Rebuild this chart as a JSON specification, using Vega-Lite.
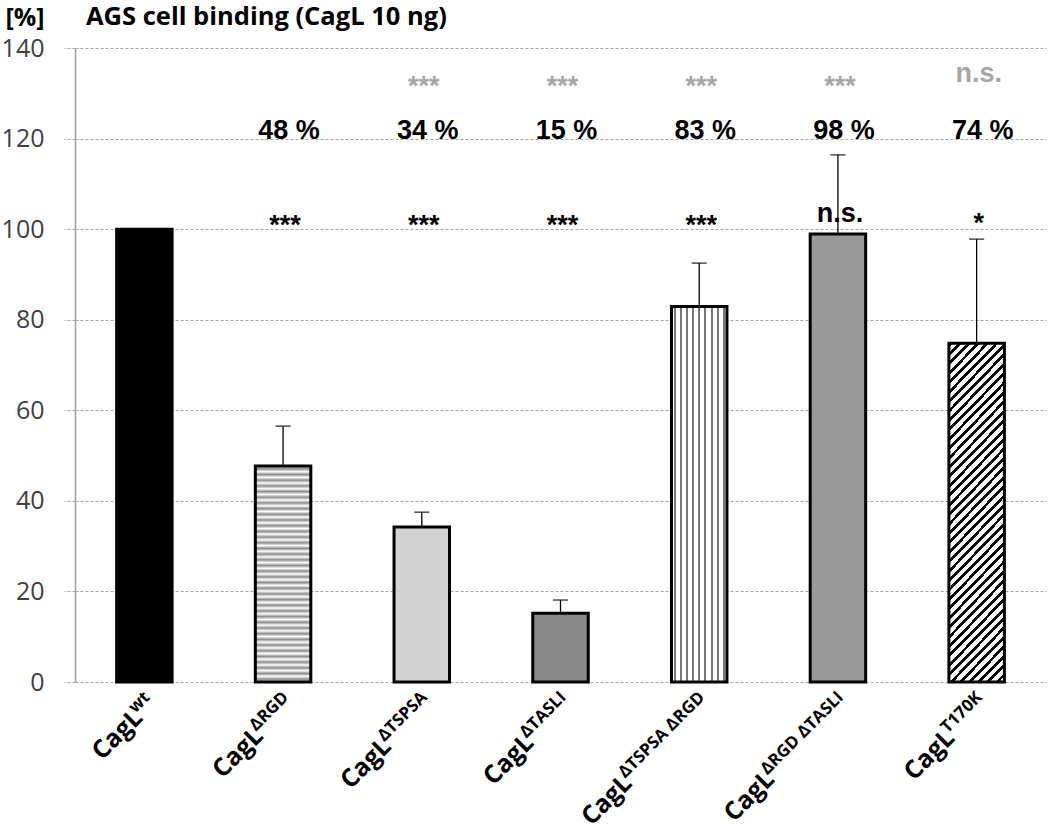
{
  "$schema": "https://vega.github.io/schema/vega-lite/v6.json",
  "width": 971,
  "height": 634,
  "autosize": {"type": "none"},
  "padding": {"left": 75, "top": 48, "right": 4, "bottom": 145},
  "background": "white",
  "title": {"text": "AGS cell binding (CagL 10 ng)", "anchor": "start", "frame": "group", "dx": 11, "dy": 45, "offset": 0, "baseline": "alphabetic", "font": "Open Sans", "fontSize": 25.5, "fontWeight": "bold", "color": "#000"},
  "config": {"view": {"stroke": null}},
  "data": {"values": [
    {"variant": "wt", "mean": 100, "upper": null, "pct": "", "sig": "", "sig2": ""},
    {"variant": "ΔRGD", "mean": 47.7, "upper": 56.5, "pct": "48 %", "sig": "***", "sig2": ""},
    {"variant": "ΔTSPSA", "mean": 34.2, "upper": 37.5, "pct": "34 %", "sig": "***", "sig2": "***"},
    {"variant": "ΔTASLI", "mean": 15.2, "upper": 18.1, "pct": "15 %", "sig": "***", "sig2": "***"},
    {"variant": "ΔTSPSA ΔRGD", "mean": 82.9, "upper": 92.5, "pct": "83 %", "sig": "***", "sig2": "***"},
    {"variant": "ΔRGD ΔTASLI", "mean": 98.9, "upper": 116.4, "pct": "98 %", "sig": "n.s.", "sig2": "***"},
    {"variant": "T170K", "mean": 74.8, "upper": 97.8, "pct": "74 %", "sig": "*", "sig2": "n.s."}
  ]},
  "encoding": {
    "x": {"field": "variant", "type": "nominal", "sort": null, "scale": {"paddingInner": 0.6, "paddingOuter": 0.3}, "axis": null}
  },
  "layer": [
    {
      "mark": {"type": "bar", "stroke": "#000", "strokeWidth": 3},
      "encoding": {
        "y": {"field": "mean", "type": "quantitative", "scale": {"domain": [0, 140], "nice": false},
          "axis": {"title": "[%]", "titleAngle": 0, "titleX": -70, "titleY": -23, "titleAlign": "left", "titleBaseline": "alphabetic", "titleFont": "Open Sans", "titleFontSize": 25, "titleFontWeight": "bold", "titleColor": "#000",
            "values": [0, 20, 40, 60, 80, 100, 120, 140], "labelFont": "Open Sans", "labelFontSize": 25, "labelColor": "#404040", "labelPadding": 20,
            "tickSize": 11, "tickColor": "#a6a6a6", "tickDash": [3, 2], "tickWidth": 1,
            "domainColor": "#a0a0a0", "domainWidth": 1.5, "gridColor": "#a6a6a6", "gridDash": [3, 2], "gridWidth": 1}},
        "fill": {
          "condition": [
            {"test": "datum.variant === 'wt'", "value": "#000"},
            {"test": "datum.variant === 'ΔRGD'", "value": {"gradient": "linear", "x1": 0, "y1": 0, "x2": 0, "y2": 1, "stops": [
              {"offset": 0, "color": "#fff"}, {"offset": 0.0132, "color": "#8c8c8c"}, {"offset": 0.0263, "color": "#fff"}, {"offset": 0.0395, "color": "#8c8c8c"},
              {"offset": 0.0526, "color": "#fff"}, {"offset": 0.0658, "color": "#8c8c8c"}, {"offset": 0.0789, "color": "#fff"}, {"offset": 0.0921, "color": "#8c8c8c"},
              {"offset": 0.1053, "color": "#fff"}, {"offset": 0.1184, "color": "#8c8c8c"}, {"offset": 0.1316, "color": "#fff"}, {"offset": 0.1447, "color": "#8c8c8c"},
              {"offset": 0.1579, "color": "#fff"}, {"offset": 0.1711, "color": "#8c8c8c"}, {"offset": 0.1842, "color": "#fff"}, {"offset": 0.1974, "color": "#8c8c8c"},
              {"offset": 0.2105, "color": "#fff"}, {"offset": 0.2237, "color": "#8c8c8c"}, {"offset": 0.2368, "color": "#fff"}, {"offset": 0.25, "color": "#8c8c8c"},
              {"offset": 0.2632, "color": "#fff"}, {"offset": 0.2763, "color": "#8c8c8c"}, {"offset": 0.2895, "color": "#fff"}, {"offset": 0.3026, "color": "#8c8c8c"},
              {"offset": 0.3158, "color": "#fff"}, {"offset": 0.3289, "color": "#8c8c8c"}, {"offset": 0.3421, "color": "#fff"}, {"offset": 0.3553, "color": "#8c8c8c"},
              {"offset": 0.3684, "color": "#fff"}, {"offset": 0.3816, "color": "#8c8c8c"}, {"offset": 0.3947, "color": "#fff"}, {"offset": 0.4079, "color": "#8c8c8c"},
              {"offset": 0.4211, "color": "#fff"}, {"offset": 0.4342, "color": "#8c8c8c"}, {"offset": 0.4474, "color": "#fff"}, {"offset": 0.4605, "color": "#8c8c8c"},
              {"offset": 0.4737, "color": "#fff"}, {"offset": 0.4868, "color": "#8c8c8c"}, {"offset": 0.5, "color": "#fff"}, {"offset": 0.5132, "color": "#8c8c8c"},
              {"offset": 0.5263, "color": "#fff"}, {"offset": 0.5395, "color": "#8c8c8c"}, {"offset": 0.5526, "color": "#fff"}, {"offset": 0.5658, "color": "#8c8c8c"},
              {"offset": 0.5789, "color": "#fff"}, {"offset": 0.5921, "color": "#8c8c8c"}, {"offset": 0.6053, "color": "#fff"}, {"offset": 0.6184, "color": "#8c8c8c"},
              {"offset": 0.6316, "color": "#fff"}, {"offset": 0.6447, "color": "#8c8c8c"}, {"offset": 0.6579, "color": "#fff"}, {"offset": 0.6711, "color": "#8c8c8c"},
              {"offset": 0.6842, "color": "#fff"}, {"offset": 0.6974, "color": "#8c8c8c"}, {"offset": 0.7105, "color": "#fff"}, {"offset": 0.7237, "color": "#8c8c8c"},
              {"offset": 0.7368, "color": "#fff"}, {"offset": 0.75, "color": "#8c8c8c"}, {"offset": 0.7632, "color": "#fff"}, {"offset": 0.7763, "color": "#8c8c8c"},
              {"offset": 0.7895, "color": "#fff"}, {"offset": 0.8026, "color": "#8c8c8c"}, {"offset": 0.8158, "color": "#fff"}, {"offset": 0.8289, "color": "#8c8c8c"},
              {"offset": 0.8421, "color": "#fff"}, {"offset": 0.8553, "color": "#8c8c8c"}, {"offset": 0.8684, "color": "#fff"}, {"offset": 0.8816, "color": "#8c8c8c"},
              {"offset": 0.8947, "color": "#fff"}, {"offset": 0.9079, "color": "#8c8c8c"}, {"offset": 0.9211, "color": "#fff"}, {"offset": 0.9342, "color": "#8c8c8c"},
              {"offset": 0.9474, "color": "#fff"}, {"offset": 0.9605, "color": "#8c8c8c"}, {"offset": 0.9737, "color": "#fff"}, {"offset": 0.9868, "color": "#8c8c8c"},
              {"offset": 1, "color": "#fff"}]}},
            {"test": "datum.variant === 'ΔTSPSA'", "value": "#d3d3d3"},
            {"test": "datum.variant === 'ΔTASLI'", "value": "#8a8a8a"},
            {"test": "datum.variant === 'ΔTSPSA ΔRGD'", "value": {"gradient": "linear", "x1": 0, "y1": 0, "x2": 1, "y2": 0, "stops": [
              {"offset": 0, "color": "#fff"},
              {"offset": 0.0376, "color": "#fff"}, {"offset": 0.0376, "color": "#777"}, {"offset": 0.0736, "color": "#777"}, {"offset": 0.0736, "color": "#fff"},
              {"offset": 0.1487, "color": "#fff"}, {"offset": 0.1487, "color": "#777"}, {"offset": 0.1847, "color": "#777"}, {"offset": 0.1847, "color": "#fff"},
              {"offset": 0.2598, "color": "#fff"}, {"offset": 0.2598, "color": "#777"}, {"offset": 0.2958, "color": "#777"}, {"offset": 0.2958, "color": "#fff"},
              {"offset": 0.3709, "color": "#fff"}, {"offset": 0.3709, "color": "#777"}, {"offset": 0.4069, "color": "#777"}, {"offset": 0.4069, "color": "#fff"},
              {"offset": 0.482, "color": "#fff"}, {"offset": 0.482, "color": "#777"}, {"offset": 0.518, "color": "#777"}, {"offset": 0.518, "color": "#fff"},
              {"offset": 0.5931, "color": "#fff"}, {"offset": 0.5931, "color": "#777"}, {"offset": 0.6291, "color": "#777"}, {"offset": 0.6291, "color": "#fff"},
              {"offset": 0.7042, "color": "#fff"}, {"offset": 0.7042, "color": "#777"}, {"offset": 0.7402, "color": "#777"}, {"offset": 0.7402, "color": "#fff"},
              {"offset": 0.8153, "color": "#fff"}, {"offset": 0.8153, "color": "#777"}, {"offset": 0.8513, "color": "#777"}, {"offset": 0.8513, "color": "#fff"},
              {"offset": 0.9264, "color": "#fff"}, {"offset": 0.9264, "color": "#777"}, {"offset": 0.9624, "color": "#777"}, {"offset": 0.9624, "color": "#fff"},
              {"offset": 1, "color": "#fff"}]}},
            {"test": "datum.variant === 'ΔRGD ΔTASLI'", "value": "#999"},
            {"test": "datum.variant === 'T170K'", "value": {"gradient": "linear", "x1": 0, "y1": 0, "x2": 0.1908, "y2": 1.1359, "stops": [
              {"offset": 0, "color": "#000"}, {"offset": 0.01, "color": "#000"}, {"offset": 0.01, "color": "#fff"},
              {"offset": 0.0238, "color": "#fff"}, {"offset": 0.0238, "color": "#000"}, {"offset": 0.0338, "color": "#000"}, {"offset": 0.0338, "color": "#fff"},
              {"offset": 0.0476, "color": "#fff"}, {"offset": 0.0476, "color": "#000"}, {"offset": 0.0576, "color": "#000"}, {"offset": 0.0576, "color": "#fff"},
              {"offset": 0.0714, "color": "#fff"}, {"offset": 0.0714, "color": "#000"}, {"offset": 0.0814, "color": "#000"}, {"offset": 0.0814, "color": "#fff"},
              {"offset": 0.0952, "color": "#fff"}, {"offset": 0.0952, "color": "#000"}, {"offset": 0.1052, "color": "#000"}, {"offset": 0.1052, "color": "#fff"},
              {"offset": 0.119, "color": "#fff"}, {"offset": 0.119, "color": "#000"}, {"offset": 0.129, "color": "#000"}, {"offset": 0.129, "color": "#fff"},
              {"offset": 0.1429, "color": "#fff"}, {"offset": 0.1429, "color": "#000"}, {"offset": 0.1529, "color": "#000"}, {"offset": 0.1529, "color": "#fff"},
              {"offset": 0.1667, "color": "#fff"}, {"offset": 0.1667, "color": "#000"}, {"offset": 0.1767, "color": "#000"}, {"offset": 0.1767, "color": "#fff"},
              {"offset": 0.1905, "color": "#fff"}, {"offset": 0.1905, "color": "#000"}, {"offset": 0.2005, "color": "#000"}, {"offset": 0.2005, "color": "#fff"},
              {"offset": 0.2143, "color": "#fff"}, {"offset": 0.2143, "color": "#000"}, {"offset": 0.2243, "color": "#000"}, {"offset": 0.2243, "color": "#fff"},
              {"offset": 0.2381, "color": "#fff"}, {"offset": 0.2381, "color": "#000"}, {"offset": 0.2481, "color": "#000"}, {"offset": 0.2481, "color": "#fff"},
              {"offset": 0.2619, "color": "#fff"}, {"offset": 0.2619, "color": "#000"}, {"offset": 0.2719, "color": "#000"}, {"offset": 0.2719, "color": "#fff"},
              {"offset": 0.2857, "color": "#fff"}, {"offset": 0.2857, "color": "#000"}, {"offset": 0.2957, "color": "#000"}, {"offset": 0.2957, "color": "#fff"},
              {"offset": 0.3095, "color": "#fff"}, {"offset": 0.3095, "color": "#000"}, {"offset": 0.3195, "color": "#000"}, {"offset": 0.3195, "color": "#fff"},
              {"offset": 0.3333, "color": "#fff"}, {"offset": 0.3333, "color": "#000"}, {"offset": 0.3433, "color": "#000"}, {"offset": 0.3433, "color": "#fff"},
              {"offset": 0.3571, "color": "#fff"}, {"offset": 0.3571, "color": "#000"}, {"offset": 0.3671, "color": "#000"}, {"offset": 0.3671, "color": "#fff"},
              {"offset": 0.381, "color": "#fff"}, {"offset": 0.381, "color": "#000"}, {"offset": 0.391, "color": "#000"}, {"offset": 0.391, "color": "#fff"},
              {"offset": 0.4048, "color": "#fff"}, {"offset": 0.4048, "color": "#000"}, {"offset": 0.4148, "color": "#000"}, {"offset": 0.4148, "color": "#fff"},
              {"offset": 0.4286, "color": "#fff"}, {"offset": 0.4286, "color": "#000"}, {"offset": 0.4386, "color": "#000"}, {"offset": 0.4386, "color": "#fff"},
              {"offset": 0.4524, "color": "#fff"}, {"offset": 0.4524, "color": "#000"}, {"offset": 0.4624, "color": "#000"}, {"offset": 0.4624, "color": "#fff"},
              {"offset": 0.4762, "color": "#fff"}, {"offset": 0.4762, "color": "#000"}, {"offset": 0.4862, "color": "#000"}, {"offset": 0.4862, "color": "#fff"},
              {"offset": 0.5, "color": "#fff"}, {"offset": 0.5, "color": "#000"}, {"offset": 0.51, "color": "#000"}, {"offset": 0.51, "color": "#fff"},
              {"offset": 0.5238, "color": "#fff"}, {"offset": 0.5238, "color": "#000"}, {"offset": 0.5338, "color": "#000"}, {"offset": 0.5338, "color": "#fff"},
              {"offset": 0.5476, "color": "#fff"}, {"offset": 0.5476, "color": "#000"}, {"offset": 0.5576, "color": "#000"}, {"offset": 0.5576, "color": "#fff"},
              {"offset": 0.5714, "color": "#fff"}, {"offset": 0.5714, "color": "#000"}, {"offset": 0.5814, "color": "#000"}, {"offset": 0.5814, "color": "#fff"},
              {"offset": 0.5952, "color": "#fff"}, {"offset": 0.5952, "color": "#000"}, {"offset": 0.6052, "color": "#000"}, {"offset": 0.6052, "color": "#fff"},
              {"offset": 0.619, "color": "#fff"}, {"offset": 0.619, "color": "#000"}, {"offset": 0.629, "color": "#000"}, {"offset": 0.629, "color": "#fff"},
              {"offset": 0.6429, "color": "#fff"}, {"offset": 0.6429, "color": "#000"}, {"offset": 0.6529, "color": "#000"}, {"offset": 0.6529, "color": "#fff"},
              {"offset": 0.6667, "color": "#fff"}, {"offset": 0.6667, "color": "#000"}, {"offset": 0.6767, "color": "#000"}, {"offset": 0.6767, "color": "#fff"},
              {"offset": 0.6905, "color": "#fff"}, {"offset": 0.6905, "color": "#000"}, {"offset": 0.7005, "color": "#000"}, {"offset": 0.7005, "color": "#fff"},
              {"offset": 0.7143, "color": "#fff"}, {"offset": 0.7143, "color": "#000"}, {"offset": 0.7243, "color": "#000"}, {"offset": 0.7243, "color": "#fff"},
              {"offset": 0.7381, "color": "#fff"}, {"offset": 0.7381, "color": "#000"}, {"offset": 0.7481, "color": "#000"}, {"offset": 0.7481, "color": "#fff"},
              {"offset": 0.7619, "color": "#fff"}, {"offset": 0.7619, "color": "#000"}, {"offset": 0.7719, "color": "#000"}, {"offset": 0.7719, "color": "#fff"},
              {"offset": 0.7857, "color": "#fff"}, {"offset": 0.7857, "color": "#000"}, {"offset": 0.7957, "color": "#000"}, {"offset": 0.7957, "color": "#fff"},
              {"offset": 0.8095, "color": "#fff"}, {"offset": 0.8095, "color": "#000"}, {"offset": 0.8195, "color": "#000"}, {"offset": 0.8195, "color": "#fff"},
              {"offset": 0.8333, "color": "#fff"}, {"offset": 0.8333, "color": "#000"}, {"offset": 0.8433, "color": "#000"}, {"offset": 0.8433, "color": "#fff"},
              {"offset": 0.8571, "color": "#fff"}, {"offset": 0.8571, "color": "#000"}, {"offset": 0.8671, "color": "#000"}, {"offset": 0.8671, "color": "#fff"},
              {"offset": 0.881, "color": "#fff"}, {"offset": 0.881, "color": "#000"}, {"offset": 0.891, "color": "#000"}, {"offset": 0.891, "color": "#fff"},
              {"offset": 0.9048, "color": "#fff"}, {"offset": 0.9048, "color": "#000"}, {"offset": 0.9148, "color": "#000"}, {"offset": 0.9148, "color": "#fff"},
              {"offset": 0.9286, "color": "#fff"}, {"offset": 0.9286, "color": "#000"}, {"offset": 0.9386, "color": "#000"}, {"offset": 0.9386, "color": "#fff"},
              {"offset": 0.9524, "color": "#fff"}, {"offset": 0.9524, "color": "#000"}, {"offset": 0.9624, "color": "#000"}, {"offset": 0.9624, "color": "#fff"},
              {"offset": 0.9762, "color": "#fff"}, {"offset": 0.9762, "color": "#000"}, {"offset": 0.9862, "color": "#000"}, {"offset": 0.9862, "color": "#fff"},
              {"offset": 1, "color": "#fff"}]}}
          ],
          "value": "#fff"
        }
      }
    },
    {
      "transform": [{"filter": "datum.upper != null"}],
      "mark": {"type": "rule", "color": "#000", "strokeWidth": 1.3},
      "encoding": {"y": {"field": "mean", "type": "quantitative"}, "y2": {"field": "upper"}}
    },
    {
      "transform": [{"filter": "datum.upper != null"}],
      "mark": {"type": "tick", "color": "#000", "size": 15, "thickness": 1.5},
      "encoding": {"y": {"field": "upper", "type": "quantitative"}}
    },
    {
      "mark": {"type": "text", "font": "Liberation Sans", "fontSize": 27, "fontWeight": "bold", "color": "#000", "baseline": "alphabetic", "dx": 6},
      "encoding": {"y": {"datum": 120, "type": "quantitative"}, "text": {"field": "pct"}}
    },
    {
      "mark": {"type": "text", "font": "Liberation Sans", "fontSize": 27, "fontWeight": "bold", "color": "#000", "baseline": "alphabetic", "dx": 2,
        "dy": {"expr": "datum.sig === 'n.s.' ? -7 : (datum.sig === '*' ? 3 : 5)"}},
      "encoding": {"y": {"datum": 100, "type": "quantitative"}, "text": {"field": "sig"}}
    },
    {
      "mark": {"type": "text", "font": "Liberation Sans", "fontSize": 27, "fontWeight": "bold", "color": "#a6a6a6", "baseline": "alphabetic", "dx": 2,
        "dy": {"expr": "datum.sig2 === 'n.s.' ? -11 : 2"}},
      "encoding": {"y": {"datum": 130, "type": "quantitative"}, "text": {"field": "sig2"}}
    },
    {
      "mark": {"type": "text", "font": "Open Sans", "fontSize": 17, "fontWeight": "bold", "color": "#000", "angle": 315, "align": "right", "baseline": "alphabetic", "dx": -7, "dy": 16},
      "encoding": {"y": {"datum": 0, "type": "quantitative"}, "text": {"field": "variant"}}
    },
    {
      "mark": {"type": "text", "font": "Open Sans", "fontSize": 25, "fontWeight": "bold", "color": "#000", "angle": 315, "align": "right", "baseline": "alphabetic", "text": "CagL",
        "dx": {"expr": "-5 - (datum.variant === 'wt' ? 21.6 : datum.variant === 'ΔRGD' ? 47.4 : datum.variant === 'ΔTSPSA' ? 62.4 : datum.variant === 'ΔTASLI' ? 57 : datum.variant === 'ΔTSPSA ΔRGD' ? 114.2 : datum.variant === 'ΔRGD ΔTASLI' ? 108.8 : 50.3)"}, "dy": 26},
      "encoding": {"y": {"datum": 0, "type": "quantitative"}}
    }
  ]
}
